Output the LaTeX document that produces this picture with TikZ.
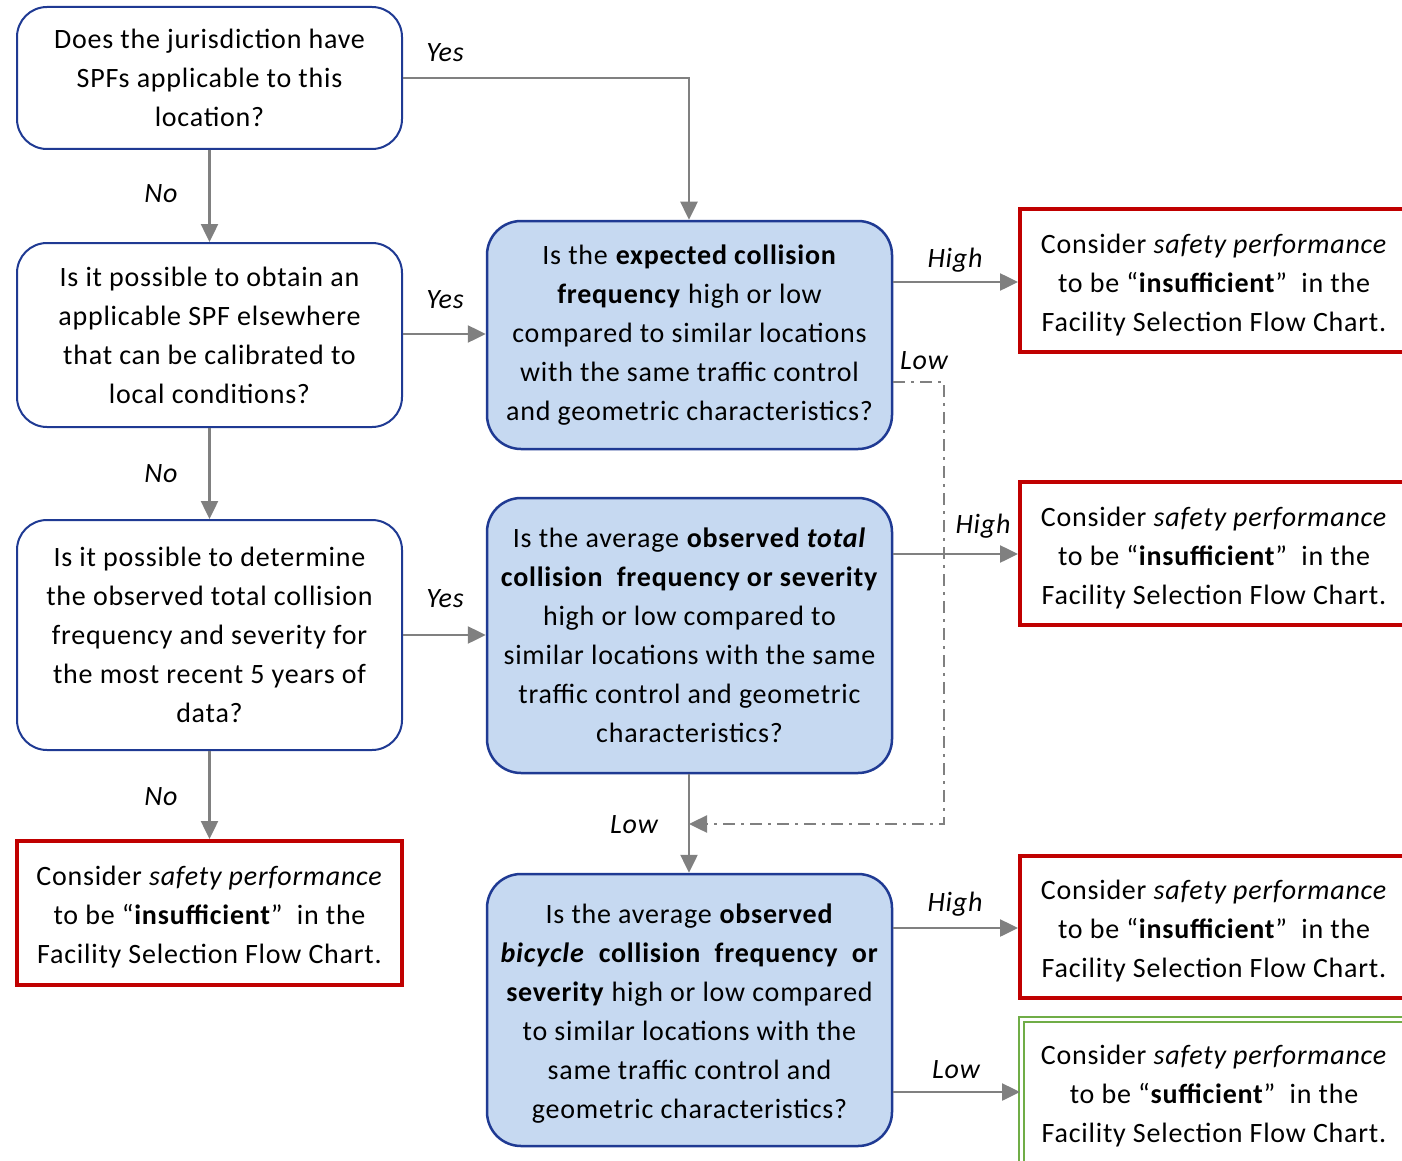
\documentclass[tikz,border=0pt]{standalone}
\usepackage{fontspec}
\setmainfont{Carlito}[LetterSpace=2.8]
\usetikzlibrary{arrows.meta}
\definecolor{bdr}{HTML}{1F3A93}
\definecolor{qfill}{HTML}{C6D9F1}
\definecolor{red1}{HTML}{C00000}
\definecolor{grn}{HTML}{70AD47}
\definecolor{arr}{HTML}{808080}
\newcommand{\lift}[1]{\rule{0pt}{#1}}
\begin{document}
\begin{tikzpicture}[x=1pt,y=-1pt,
  every node/.style={font=\fontsize{28}{39}\selectfont, align=center, inner sep=0pt},
  qbox/.style={draw=bdr, line width=2pt, rounded corners=30pt, fill=white},
  fbox/.style={draw=bdr, line width=2.5pt, rounded corners=34pt, fill=qfill},
  rbox/.style={draw=red1, line width=4pt, fill=white},
  gbox/.style={draw=grn, line width=2pt, double=white, double distance=3pt, fill=white},
  arrow/.style={draw=arr, line width=2.5pt, -{Triangle[length=18pt,width=17pt]}},
  dd/.style={draw=arr, line width=2.5pt, dash pattern=on 12pt off 6pt on 3pt off 6pt, -{Triangle[length=18pt,width=17pt]}},
  lbl/.style={font=\fontsize{28}{30}\selectfont\itshape}
]
\useasboundingbox (0,0) rectangle (1402,1161);
% left column
\node[qbox, minimum width=385pt, minimum height=142pt] (a) at (209.5,78) {Does the jurisdiction have\\SPFs applicable to this\\location?};
\node[qbox, minimum width=385pt, minimum height=184pt] (b) at (209.5,335) {Is it possible to obtain an\\applicable SPF elsewhere\\that can be calibrated to\\local conditions?};
\node[qbox, minimum width=385pt, minimum height=230pt] (c) at (209.5,635) {Is it possible to determine\\the observed total collision\\frequency and severity for\\the most recent 5 years of\\data?};
\node[rbox, minimum width=385pt, minimum height=144pt] (d) at (209.5,913) {\lift{28pt}Consider \textit{safety performance}\\to be “\textbf{insufficient}”\ \ in the\\Facility Selection Flow Chart.};
% middle column
\node[fbox, minimum width=405pt, minimum height=228pt] (e) at (689.5,335) {Is the \textbf{expected collision}\\\textbf{frequency} high or low\\compared to similar locations\\with the same traffic control\\and geometric characteristics?};
\node[fbox, minimum width=405pt, minimum height=275pt] (f) at (689.5,635.5) {Is the average \textbf{observed \textit{total}}\\\textbf{collision\ \ frequency or severity}\\high or low compared to\\similar locations with the same\\traffic control and geometric\\characteristics?};
\node[fbox, minimum width=405pt, minimum height=272pt] (g) at (689.5,1010) {\lift{26pt}Is the average \textbf{observed}\\\textbf{\textit{bicycle}\ \ collision\ \ frequency\ \ or}\\\textbf{severity} high or low compared\\to similar locations with the\\same traffic control and\\geometric characteristics?};
% right column
\node[rbox, minimum width=388pt, minimum height=143pt] (r1) at (1214,280.5) {\lift{28pt}Consider \textit{safety performance}\\to be “\textbf{insufficient}”\ \ in the\\Facility Selection Flow Chart.};
\node[rbox, minimum width=388pt, minimum height=143pt] (r2) at (1214,553.5) {\lift{28pt}Consider \textit{safety performance}\\to be “\textbf{insufficient}”\ \ in the\\Facility Selection Flow Chart.};
\node[rbox, minimum width=388pt, minimum height=142pt] (r3) at (1214,927) {\lift{28pt}Consider \textit{safety performance}\\to be “\textbf{insufficient}”\ \ in the\\Facility Selection Flow Chart.};
\node[gbox, minimum width=386pt, minimum height=146pt] (r4) at (1214,1092) {\lift{27pt}Consider \textit{safety performance}\\to be “\textbf{sufficient}”\ \ in the\\Facility Selection Flow Chart.};
% connectors
\coordinate (c1) at (689,78);
\draw[arrow] (a.east |- 0,78) -- (c1) -- (e.north -| c1);
\node[lbl] (l1) at (445,53) {Yes};
\draw[arrow] (a.south) -- (b.north);
\node[lbl] (l2) at (161,194) {No};
\draw[arrow] (b.east |- 0,334) -- (e.west |- 0,334);
\node[lbl] (l3) at (445,300) {Yes};
\draw[arrow] (b.south) -- (c.north);
\node[lbl] (l4) at (161,474) {No};
\draw[arrow] (c.east |- 0,635) -- (f.west |- 0,635);
\node[lbl] (l5) at (445,599) {Yes};
\draw[arrow] (c.south) -- (d.north -| c.south);
\node[lbl] (l6) at (161,797) {No};
\draw[arrow] (e.east |- 0,282) -- (r1.west |- 0,282);
\node[lbl] (l7) at (955,260) {High};
\draw[arrow] (f.east |- 0,554) -- (r2.west |- 0,554);
\node[lbl] (l8) at (983,526) {High};
\draw[arrow] (f.south -| 689,0) -- (g.north -| 689,0);
\node[lbl] (l9) at (634,825) {Low};
\coordinate (d1) at (944,382);
\coordinate (d2) at (944,824);
\coordinate (d3) at (689,824);
\draw[dd] (e.east |- d1) -- (d1) -- (d2) -- (d3);
\node[lbl] (l10) at (924,361) {Low};
\draw[arrow] (g.east |- 0,928) -- (r3.west |- 0,928);
\node[lbl] (l11) at (955,904) {High};
\draw[arrow] (g.east |- 0,1092) -- (r4.west |- 0,1092);
\node[lbl] (l12) at (956,1070) {Low};
\end{tikzpicture}
\end{document}
